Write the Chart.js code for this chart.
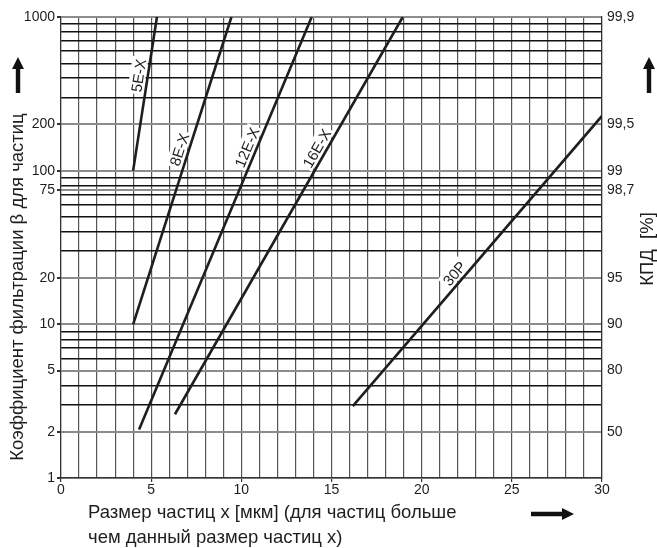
<!DOCTYPE html>
<html>
<head>
<meta charset="utf-8">
<script src="https://cdn.jsdelivr.net/npm/chart.js@4.4.1/dist/chart.umd.min.js"></script>
<style>
  html, body { margin: 0; padding: 0; background: #fff; }
  #wrap { width: 657px; height: 548px; }
</style>
</head>
<body>
<div id="wrap"><canvas id="betaChart" width="657" height="548"></canvas></div>
<script>
// filter grades and their line end points (x in microns, beta ratio)
const seriesNames = ['5E-X', '8E-X', '12E-X', '16E-X', '30P'];
const startX = [4.0, 4.0, 4.33, 6.32, 16.18];
const startBeta = [100, 10, 2.07, 2.6, 2.94];
const endX = [5.32, 9.45, 13.9, 18.95, 30];
const endBeta = [1000, 1000, 1000, 1000, 227];

// axis ticks
const xLabelTicks = [0, 5, 10, 15, 20, 25, 30];
const betaLabelTicks = [1, 2, 5, 10, 20, 75, 100, 200, 1000];
const betaGrid = [1, 2, 3, 4, 5, 6, 7, 8, 9, 10, 20, 30, 40, 50, 60, 70, 75, 80, 90,
                  100, 200, 300, 400, 500, 600, 700, 800, 900, 1000];
const effAt = [2, 5, 10, 20, 75, 100, 200, 1000];
const effLabels = ['50', '80', '90', '95', '98,7', '99', '99,5', '99,9'];

// where the curve names sit (fraction along each line)
const nameAt = [0.61, 0.56, 0.675, 0.658, 0.436];

const FONT = '"Liberation Sans", Arial, sans-serif';
const INK = '#1e1e1e';

function arrow(ctx, x1, y1, x2, y2) {
    // solid black arrow from (x1,y1) to (x2,y2)
    const ang = Math.atan2(y2 - y1, x2 - x1);
    const len = Math.hypot(x2 - x1, y2 - y1);
    ctx.save();
    ctx.translate(x1, y1);
    ctx.rotate(ang);
    ctx.fillStyle = '#111';
    ctx.beginPath();
    ctx.moveTo(0, -2.2);
    ctx.lineTo(len - 12, -2.2);
    ctx.lineTo(len - 12, -6);
    ctx.lineTo(len, 0);
    ctx.lineTo(len - 12, 6);
    ctx.lineTo(len - 12, 2.2);
    ctx.lineTo(0, 2.2);
    ctx.closePath();
    ctx.fill();
    ctx.restore();
}

const decorPlugin = {
    id: 'decor',
    beforeDatasetsDraw(chart) {
        // curve names, rotated along their lines, on white
        const ctx = chart.ctx;
        const xs = chart.scales.x, ys = chart.scales.y;
        ctx.save();
        ctx.font = '15px ' + FONT;
        seriesNames.forEach((name, i) => {
            const x1 = xs.getPixelForValue(startX[i]), y1 = ys.getPixelForValue(startBeta[i]);
            const x2 = xs.getPixelForValue(endX[i]), y2 = ys.getPixelForValue(endBeta[i]);
            const t = nameAt[i];
            const px = x1 + (x2 - x1) * t, py = y1 + (y2 - y1) * t;
            const ang = Math.atan2(y2 - y1, x2 - x1);
            ctx.save();
            ctx.translate(px, py);
            ctx.rotate(ang);
            const w = ctx.measureText(name).width;
            ctx.fillStyle = '#fff';
            ctx.fillRect(-w / 2 - 2, -18, w + 4, 16);
            ctx.fillStyle = INK;
            ctx.textAlign = 'center';
            ctx.textBaseline = 'alphabetic';
            ctx.fillText(name, 0, -4);
            ctx.restore();
        });
        ctx.restore();
    },
    afterDraw(chart) {
        const ctx = chart.ctx;
        ctx.save();
        ctx.fillStyle = INK;
        ctx.font = '18.5px ' + FONT;
        ctx.textBaseline = 'middle';
        // left title
        ctx.save();
        ctx.translate(18, 287);
        ctx.rotate(-Math.PI / 2);
        ctx.textAlign = 'center';
        ctx.fillText('Коэффициент фильтрации β для частиц', 0, 0);
        ctx.restore();
        // right title
        ctx.save();
        ctx.translate(648, 249);
        ctx.rotate(-Math.PI / 2);
        ctx.textAlign = 'center';
        ctx.fillText('КПД  [%]', 0, 0);
        ctx.restore();
        // bottom title
        ctx.textAlign = 'left';
        ctx.fillText('Размер частиц x [мкм] (для частиц больше', 88, 513);
        ctx.fillText('чем данный размер частиц x)', 88, 538);
        ctx.restore();
        arrow(ctx, 18, 93, 18, 57);
        arrow(ctx, 649, 93, 649, 57);
        arrow(ctx, 531, 514, 574, 514);
    }
};

function renderBetaChart() {
    const ctx = document.getElementById('betaChart').getContext('2d');
    const datasets = seriesNames.map((name, i) => ({
        label: name,
        data: [{ x: startX[i], y: startBeta[i] }, { x: endX[i], y: endBeta[i] }],
        borderColor: INK,
        borderWidth: 2.6,
        pointRadius: 0,
        fill: false,
        tension: 0
    }));
    new Chart(ctx, {
        type: 'line',
        data: { datasets },
        options: {
            responsive: false,
            animation: false,
            layout: { padding: { top: 17 } },
            plugins: { legend: { display: false }, tooltip: { enabled: false } },
            scales: {
                x: {
                    type: 'linear',
                    min: 0, max: 30,
                    afterFit: s => { s.height = 70; },
                    ticks: {
                        stepSize: 1,
                        autoSkip: false,
                        maxRotation: 0,
                        padding: 0,
                        color: INK,
                        font: { family: FONT, size: 14 },
                        callback: v => (xLabelTicks.includes(v) ? String(v) : '')
                    },
                    grid: {
                        color: '#555',
                        lineWidth: 1.2,
                        tickLength: 4,
                        tickColor: c => (xLabelTicks.includes(c.tick.value) ? '#333' : 'rgba(0,0,0,0)')
                    },
                    border: { color: '#333', width: 1.2 }
                },
                y: {
                    type: 'logarithmic',
                    position: 'left',
                    min: 1, max: 1000,
                    afterFit: s => { s.width = 61; },
                    afterBuildTicks: s => { s.ticks = betaGrid.map(v => ({ value: v })); },
                    ticks: {
                        autoSkip: false,
                        padding: 2,
                        color: INK,
                        font: { family: FONT, size: 14 },
                        callback: v => (betaLabelTicks.includes(v) ? String(v) : '')
                    },
                    grid: {
                        color: c => (betaLabelTicks.includes(c.tick.value) ? '#8c8c8c' : '#111'),
                        lineWidth: c => (betaLabelTicks.includes(c.tick.value) ? 2 : 1.4),
                        tickLength: 4,
                        tickColor: c => (betaLabelTicks.includes(c.tick.value) ? '#333' : 'rgba(0,0,0,0)')
                    },
                    border: { color: '#333', width: 1.2 }
                },
                y2: {
                    type: 'logarithmic',
                    position: 'right',
                    min: 1, max: 1000,
                    afterFit: s => { s.width = 55; },
                    afterBuildTicks: s => { s.ticks = effAt.map(v => ({ value: v })); },
                    ticks: {
                        autoSkip: false,
                        padding: 5,
                        color: INK,
                        font: { family: FONT, size: 14 },
                        callback: v => effLabels[effAt.indexOf(v)]
                    },
                    grid: { drawOnChartArea: false, drawTicks: false },
                    border: { color: '#333', width: 1.2 }
                }
            }
        },
        plugins: [decorPlugin]
    });
}

document.addEventListener('DOMContentLoaded', renderBetaChart);
</script>
</body>
</html>
